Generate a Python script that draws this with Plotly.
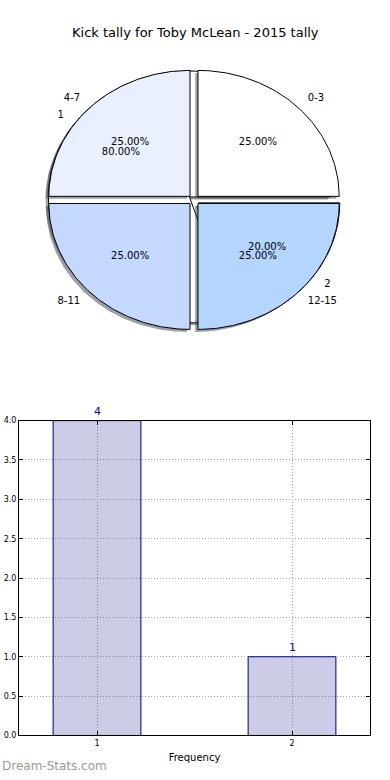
import numpy as np
import plotly.graph_objects as go

# ---------------- data ----------------
title_text = "Kick tally for Toby McLean - 2015 tally"

bin_labels = ["0-3", "4-7", "8-11", "12-15"]
bin_values = [1, 1, 1, 1]
bin_colors = ["#FFFFFF", "#EAF0FF", "#C5D8FF", "#B3D5FF"]

freq_labels = ["1", "2"]
freq_values = [4, 1]
freq_colors = ["#FFFFFF", "#FFFFFF"]

bar_x = [1, 2]
bar_values = [4, 1]
bar_tick_labels = ["1", "2"]
y_ticks = [0, 0.5, 1.0, 1.5, 2.0, 2.5, 3.0, 3.5, 4.0]

# ---------------- layout constants (pixels) ----------------
W, H = 390, 780
PIE_CX, PIE_CY = 194.0, 198.2
RX, RY = 141.2, 127.4
PIE_AREA_BOTTOM = 400
EXPLODE = 0.04
SHADOW = (-0.02, -0.02)
FONT = "DejaVu Sans"

fig = go.Figure()


def rgba_shadow(hexcol):
    h = hexcol.lstrip("#")
    r, g, b = (int(h[i:i + 2], 16) for i in (0, 2, 4))
    return "rgba(%d,%d,%d,0.5)" % (0.3 * r, 0.3 * g, 0.3 * b)


def wedge_geometry(values):
    total = float(sum(values))
    start = 0.0
    out = []
    for v in values:
        end = start + 360.0 * v / total
        mid = np.deg2rad((start + end) / 2)
        ox, oy = EXPLODE * np.cos(mid), EXPLODE * np.sin(mid)
        t = np.deg2rad(np.linspace(start, end, 90))
        xs = np.concatenate([[ox], ox + np.cos(t), [ox]])
        ys = np.concatenate([[oy], oy + np.sin(t), [oy]])
        out.append((xs, ys, ox, oy, mid, 100.0 * v / total))
        start = end
    return out


def add_pie(values, colors, with_shadow=True):
    geo = wedge_geometry(values)
    if with_shadow:
        for (xs, ys, *_), c in zip(geo, colors):
            fig.add_trace(go.Scatter(
                x=xs + SHADOW[0], y=ys + SHADOW[1], mode="lines", fill="toself",
                fillcolor=rgba_shadow(c), line=dict(width=0),
                xaxis="x2", yaxis="y2", hoverinfo="skip", showlegend=False))
    for (xs, ys, *_), c in zip(geo, colors):
        fig.add_trace(go.Scatter(
            x=xs, y=ys, mode="lines", fill="toself", fillcolor=c,
            line=dict(color="black", width=1),
            xaxis="x2", yaxis="y2", hoverinfo="skip", showlegend=False))
    return geo


def add_pie_text(geo, labels):
    for (xs, ys, ox, oy, mid, pct), lab in zip(geo, labels):
        lx = ox + 1.1 * np.cos(mid)
        ly = oy + 1.1 * np.sin(mid)
        fig.add_trace(go.Scatter(
            x=[lx], y=[ly], mode="text", text=[lab],
            textposition="middle right" if lx > 0 else "middle left",
            textfont=dict(family=FONT, size=10, color="black"),
            xaxis="x2", yaxis="y2", hoverinfo="skip", showlegend=False))
        px = ox + 0.6 * np.cos(mid)
        py = oy + 0.6 * np.sin(mid)
        fig.add_trace(go.Scatter(
            x=[px], y=[py], mode="text", text=["%.2f%%" % pct],
            textposition="middle center",
            textfont=dict(family=FONT, size=10, color="black"),
            xaxis="x2", yaxis="y2", hoverinfo="skip", showlegend=False))


geo_freq = add_pie(freq_values, freq_colors)
geo_bins = add_pie(bin_values, bin_colors)
add_pie_text(geo_freq, freq_labels)
add_pie_text(geo_bins, bin_labels)

# ---------------- bar chart ----------------
fig.add_trace(go.Bar(
    x=bar_x, y=bar_values, width=0.45,
    marker=dict(color="rgba(0,0,128,0.2)", line=dict(color="#000080", width=1)),
    hoverinfo="skip", showlegend=False, xaxis="x", yaxis="y"))

for xv, yv in zip(bar_x, bar_values):
    fig.add_annotation(x=xv, y=yv, xref="x", yref="y", text=str(yv),
                       showarrow=False, yanchor="bottom", yshift=1,
                       font=dict(family=FONT, size=11, color="#0000A0"))

fig.add_annotation(x=0.5, y=1 - 29 / H, xref="paper", yref="paper",
                   text=title_text, showarrow=False, xanchor="center", yanchor="middle",
                   font=dict(family=FONT, size=13, color="black"))
fig.add_annotation(x=0, y=1 - 771 / H, xref="paper", yref="paper",
                   text="Dream-Stats.com", showarrow=False, xanchor="left", yanchor="middle",
                   font=dict(family=FONT, size=12, color="#999999"))

axis_common = dict(showline=True, linecolor="black", linewidth=1, mirror="ticks",
                   ticks="inside", ticklen=4, tickcolor="black",
                   showgrid=True, gridcolor="#a8a8a8", griddash="1px,2px", gridwidth=1,
                   zeroline=False, fixedrange=True,
                   tickfont=dict(family=FONT, size=8, color="black"))

fig.update_layout(
    width=W, height=H, autosize=False,
    margin=dict(l=0, r=0, t=0, b=0),
    paper_bgcolor="white", plot_bgcolor="white",
    showlegend=False,
    xaxis=dict(domain=[19 / W, 370 / W], range=[0.6, 2.4], anchor="y",
               tickvals=bar_x, ticktext=bar_tick_labels,
               title=dict(text="Frequency", standoff=6,
                          font=dict(family=FONT, size=10, color="black")),
               **axis_common),
    yaxis=dict(domain=[(H - 740) / H, (H - 421.5) / H], range=[0, 4], anchor="x",
               tickvals=y_ticks, tickformat=".1f", **axis_common),
    xaxis2=dict(domain=[0, 1], range=[(0 - PIE_CX) / RX, (W - PIE_CX) / RX],
                anchor="y2", visible=False, fixedrange=True),
    yaxis2=dict(domain=[1 - PIE_AREA_BOTTOM / H, 1],
                range=[-(PIE_AREA_BOTTOM - PIE_CY) / RY, PIE_CY / RY],
                anchor="x2", visible=False, fixedrange=True),
)

fig.write_html("out.html", config={"displayModeBar": False},
               post_script="document.body.style.margin='0';document.body.style.overflow='hidden';")
